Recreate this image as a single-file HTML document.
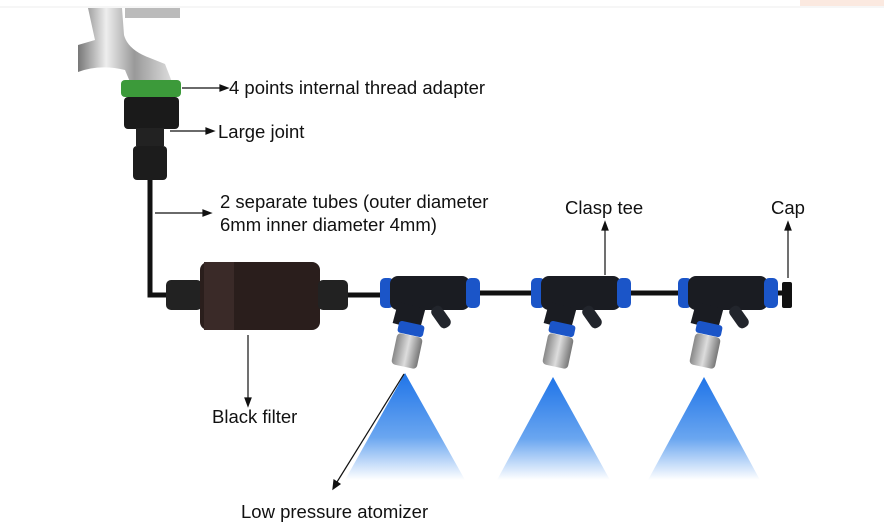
<!DOCTYPE html>
<html><head><style>
body{margin:0;background:#fff;}
svg{display:block}
text{font-family:"Liberation Sans",sans-serif;font-size:18.5px;fill:#111}
</style></head><body>
<svg width="884" height="530" viewBox="0 0 884 530">
<defs>
<linearGradient id="cone" x1="0" y1="0" x2="0" y2="1">
<stop offset="0" stop-color="#1f74e8"/><stop offset="0.6" stop-color="#6aa6f0"/><stop offset="1" stop-color="#fff"/>
</linearGradient>
<linearGradient id="chrome" x1="0" y1="0" x2="1" y2="0">
<stop offset="0" stop-color="#777"/><stop offset="0.3" stop-color="#eee"/><stop offset="0.6" stop-color="#999"/><stop offset="1" stop-color="#ddd"/>
</linearGradient>
<linearGradient id="nut" x1="0" y1="0" x2="1" y2="0">
<stop offset="0" stop-color="#888"/><stop offset="0.5" stop-color="#ddd"/><stop offset="1" stop-color="#777"/>
</linearGradient>
</defs>
<line x1="0" y1="7" x2="884" y2="7" stroke="#eee"/>
<rect x="800" y="0" width="84" height="6" fill="#fbe9e0"/>
<!-- faucet -->
<path d="M88 8 L122 8 L124 35 Q128 50 150 58 L165 64 L172 82 L130 82 L125 70 Q100 64 78 72 L78 45 L95 40 Z" fill="url(#chrome)"/>
<rect x="125" y="8" width="55" height="10" fill="#bbb"/>
<!-- adapter -->
<rect x="121" y="80" width="60" height="17" rx="4" fill="#3c9a3a"/>
<rect x="124" y="97" width="55" height="32" rx="4" fill="#1a1a1a"/>
<rect x="136" y="128" width="28" height="18" fill="#222"/>
<rect x="133" y="146" width="34" height="34" rx="4" fill="#1c1c1c"/>
<!-- tube -->
<path d="M150 180 L150 295 L390 295" stroke="#111" stroke-width="5" fill="none"/>
<line x1="470" y1="293" x2="790" y2="293" stroke="#111" stroke-width="5"/>
<!-- filter -->
<rect x="166" y="280" width="36" height="30" rx="5" fill="#222"/>
<rect x="200" y="262" width="120" height="68" rx="8" fill="#2a1e1c"/>
<rect x="204" y="262" width="30" height="68" fill="#3a2a28"/>
<rect x="318" y="280" width="30" height="30" rx="5" fill="#222"/>
<!-- tees -->
<g id="tee">
<rect x="380" y="278" width="14" height="30" rx="5" fill="#1b55c8"/>
<rect x="390" y="276" width="80" height="34" rx="8" fill="#1a1c22"/>
<rect x="466" y="278" width="14" height="30" rx="5" fill="#1b55c8"/>
<rect x="395" y="305" width="28" height="22" fill="#1a1c22" transform="rotate(15 409 316)"/>
<rect x="435" y="305" width="12" height="24" rx="5" fill="#22252c" transform="rotate(-35 441 317)"/>
<rect x="398" y="323" width="26" height="12" rx="3" fill="#1b55c8" transform="rotate(12 411 329)"/>
<rect x="394" y="335" width="26" height="32" rx="4" fill="url(#nut)" transform="rotate(12 407 351)"/>
</g>
<use href="#tee" x="151"/>
<use href="#tee" x="298"/>
<rect x="782" y="282" width="10" height="26" rx="2" fill="#111"/>
<!-- cones -->
<path d="M405 373 L345 480 L465 480 Z" fill="url(#cone)"/>
<path d="M553 377 L497 480 L610 480 Z" fill="url(#cone)"/>
<path d="M704 377 L648 480 L760 480 Z" fill="url(#cone)"/>
<!-- arrows -->
<g stroke="#111" stroke-width="1.2" fill="#111">
<line x1="182" y1="88" x2="222" y2="88"/><path d="M228 88 L220 85 L220 91Z"/>
<line x1="170" y1="131" x2="208" y2="131"/><path d="M214 131 L206 128 L206 134Z"/>
<line x1="155" y1="213" x2="205" y2="213"/><path d="M211 213 L203 210 L203 216Z"/>
<line x1="248" y1="335" x2="248" y2="400"/><path d="M248 406 L245 398 L251 398Z"/>
<line x1="605" y1="275" x2="605" y2="228"/><path d="M605 222 L602 230 L608 230Z"/>
<line x1="788" y1="278" x2="788" y2="228"/><path d="M788 222 L785 230 L791 230Z"/>
<line x1="404" y1="374" x2="337" y2="482"/><path d="M333 489 L334 480 L340 484Z"/>
</g>
<text x="229" y="94">4 points internal thread adapter</text>
<text x="218" y="138">Large joint</text>
<text x="220" y="208">2 separate tubes (outer diameter</text>
<text x="220" y="231">6mm inner diameter 4mm)</text>
<text x="565" y="214">Clasp tee</text>
<text x="771" y="214">Cap</text>
<text x="212" y="423">Black filter</text>
<text x="241" y="518">Low pressure atomizer</text>
</svg>
</body></html>
